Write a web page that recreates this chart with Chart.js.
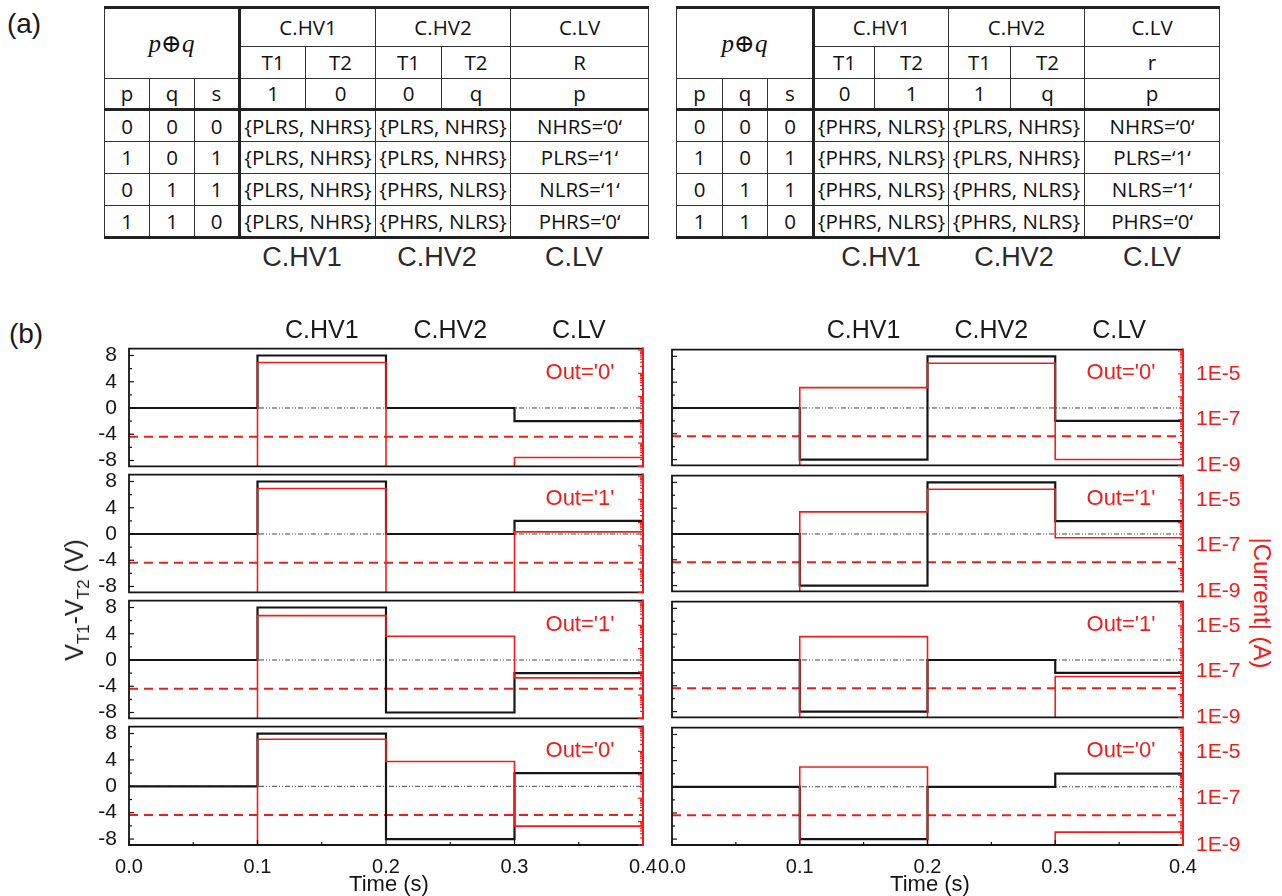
<!DOCTYPE html>
<html>
<head>
<meta charset="utf-8">
<script src="https://cdn.jsdelivr.net/npm/chart.js@4.4.1/dist/chart.umd.min.js"></script>
<style>
  body { margin: 0; background: #fff; width: 1282px; height: 896px; position: relative; overflow: hidden; font-family: "Liberation Sans", Arial, sans-serif; color: #1a1a1a; }
  .abs { position: absolute; white-space: nowrap; }
  .ctr { transform: translate(-50%, -50%); }
  canvas { position: absolute; }
  table.tt { position: absolute; border-collapse: collapse; table-layout: fixed; font-family: "Open Sans", sans-serif; font-size: 20.5px; color: #111; border-top: 3px solid #222; border-bottom: 3px solid #222; }
  table.tt td { border: 1.5px solid #333; text-align: center; vertical-align: middle; padding: 0; white-space: nowrap; overflow: visible; line-height: 1; }
  table.tt td.thickL { border-left: 3px solid #222; }
  table.tt tr.thickB td { border-bottom: 3px solid #222; }
  .pq { font-family: "Liberation Serif", "DejaVu Serif", serif; font-size: 25px; }
  .cap { font-size: 27px; color: #2a2a2a; }
  .hdr { font-size: 25px; color: #1a1a1a; }
  .out { font-size: 22px; color: #f01c1c; }
  .xt { font-size: 22px; color: #151515; }
</style>
</head>
<body>
<div class="abs ctr" style="left:24px;top:24px;font-size:28px">(a)</div>
<div class="abs ctr" style="left:26px;top:334px;font-size:28px">(b)</div>

<script>
// ---- table (a) contents ----
const truthRows = [[0, 0, 0], [1, 0, 1], [0, 1, 1], [1, 1, 0]];
const leftInputs = ['1', '0', '0', 'q', 'p'];
const rightInputs = ['0', '1', '1', 'q', 'p'];
const leftHV1 = ['{PLRS, NHRS}', '{PLRS, NHRS}', '{PLRS, NHRS}', '{PLRS, NHRS}'];
const leftHV2 = ['{PLRS, NHRS}', '{PLRS, NHRS}', '{PHRS, NLRS}', '{PHRS, NLRS}'];
const rightHV1 = ['{PHRS, NLRS}', '{PHRS, NLRS}', '{PHRS, NLRS}', '{PHRS, NLRS}'];
const rightHV2 = ['{PLRS, NHRS}', '{PLRS, NHRS}', '{PHRS, NLRS}', '{PHRS, NLRS}'];
const lvStates = ['NHRS=‘0‘', 'PLRS=‘1‘', 'NLRS=‘1‘', 'PHRS=‘0‘'];
const stageNames = ['C.HV1', 'C.HV2', 'C.LV'];

// ---- chart (b) data ----
const times = [0, 0.1, 0.2, 0.3, 0.4];
const timeTicks = [0, 0.1, 0.2, 0.3, 0.4];
const voltTicks = [-8, -4, 0, 4, 8];
const currentTicks = [1e-9, 1e-7, 1e-5];
const outLabels = ["Out='0'", "Out='1'", "Out='1'", "Out='0'"];
const thresholdCurrent = 1.9e-8;
const offScale = 1e-10; // below the 1E-9 floor of the current axis

// left column, voltage V_T1-V_T2 (V) per step (last value held to 0.4 s)
const voltL1 = [0, 8, 0, -2, -2];
const voltL2 = [0, 8, 0, 2, 2];
const voltL3 = [0, 8, -8, -2, -2];
const voltL4 = [0, 8, -8, 2, 2];
// left column, |current| (A)
const currL1 = [offScale, 2.9e-5, offScale, 2.4e-9, 2.4e-9];
const currL2 = [offScale, 2.9e-5, offScale, 4.0e-7, 4.0e-7];
const currL3 = [offScale, 2.6e-5, 3.4e-6, 5.5e-8, 5.5e-8];
const currL4 = [offScale, 3.3e-5, 3.7e-6, 6.4e-9, 6.4e-9];
// right column
const voltR1 = [0, -8, 8, -2, -2];
const voltR2 = [0, -8, 8, 2, 2];
const voltR3 = [0, -8, 0, -2, -2];
const voltR4 = [0, -8, 0, 2, 2];
const currR1 = [offScale, 2.5e-6, 2.9e-5, 1.8e-9, 1.8e-9];
const currR2 = [offScale, 3.0e-6, 2.9e-5, 2.2e-7, 2.2e-7];
const currR3 = [offScale, 3.4e-6, offScale, 6.1e-8, 6.1e-8];
const currR4 = [offScale, 2.3e-6, offScale, 3.6e-9, 3.6e-9];

const RED = '#f01c1c';
const BLACK = '#151515';

// ---- build tables ----
function buildTable(left, top, widths, inputs, hv1, hv2, lvName) {
  const t = document.createElement('table');
  t.className = 'tt';
  t.style.left = left + 'px';
  t.style.top = top + 'px';
  t.style.width = widths.reduce((a, b) => a + b, 0) + 'px';
  let h = '<colgroup>' + widths.map(w => `<col style="width:${w}px">`).join('') + '</colgroup>';
  h += `<tr style="height:39px"><td colspan="3" rowspan="2" class="pq"><i>p</i>⊕<i>q</i></td>` +
       `<td colspan="2" class="thickL">${stageNames[0]}</td><td colspan="2">${stageNames[1]}</td><td>${stageNames[2]}</td></tr>`;
  h += `<tr style="height:32px"><td class="thickL">T1</td><td>T2</td><td>T1</td><td>T2</td><td>${lvName}</td></tr>`;
  h += `<tr class="thickB" style="height:31px"><td>p</td><td>q</td><td>s</td>` +
       inputs.map((v, i) => `<td${i === 0 ? ' class="thickL"' : ''}>${v}</td>`).join('') + '</tr>';
  truthRows.forEach((r, i) => {
    h += `<tr style="height:32px"><td>${r[0]}</td><td>${r[1]}</td><td>${r[2]}</td>` +
         `<td colspan="2" class="thickL">${hv1[i]}</td><td colspan="2">${hv2[i]}</td><td>${lvStates[i]}</td></tr>`;
  });
  t.innerHTML = h;
  document.body.appendChild(t);
}
buildTable(104, 6, [45, 45, 45, 66, 70, 66, 69, 138], leftInputs, leftHV1, leftHV2, 'R');
buildTable(676, 6, [46, 45, 46, 61, 74, 62, 74, 135], rightInputs, rightHV1, rightHV2, 'r');

function addText(cls, txt, x, y, extra) {
  const d = document.createElement('div');
  d.className = 'abs ctr ' + cls;
  d.innerHTML = txt;
  d.style.left = x + 'px';
  d.style.top = y + 'px';
  if (extra) d.style.transform = 'translate(-50%, -50%) ' + extra;
  document.body.appendChild(d);
  return d;
}
[302, 437, 574].forEach((x, i) => addText('cap', stageNames[i], x, 257));
[881, 1014, 1152].forEach((x, i) => addText('cap', stageNames[i], x, 257));

// ---- charts ----
const frame = {
  id: 'frame',
  afterDatasetsDraw(chart, args, opts) {
    const { ctx, chartArea: a, scales } = chart;
    const line = (x1, y1, x2, y2) => { ctx.beginPath(); ctx.moveTo(x1, y1); ctx.lineTo(x2, y2); ctx.stroke(); };
    ctx.save();
    ctx.strokeStyle = BLACK;
    ctx.lineWidth = 1.2;
    // left voltage ticks (major + minor)
    const y = scales.y;
    voltTicks.forEach((v, i) => {
      line(a.left, y.getPixelForValue(v), a.left + 5, y.getPixelForValue(v));
      if (i < voltTicks.length - 1) {
        const m = (v + voltTicks[i + 1]) / 2;
        line(a.left, y.getPixelForValue(m), a.left + 3, y.getPixelForValue(m));
      }
    });
    if (opts.xTicks) {
      const x = scales.x;
      timeTicks.forEach((v, i) => {
        line(x.getPixelForValue(v), a.bottom, x.getPixelForValue(v), a.bottom - 5);
        if (i < timeTicks.length - 1) {
          const m = (v + timeTicks[i + 1]) / 2;
          line(x.getPixelForValue(m), a.bottom, x.getPixelForValue(m), a.bottom - 3);
        }
      });
    }
    ctx.lineWidth = 1.8;
    ctx.beginPath();
    ctx.moveTo(a.right, a.top); ctx.lineTo(a.left, a.top); ctx.lineTo(a.left, a.bottom); ctx.lineTo(a.right, a.bottom);
    ctx.stroke();
    // right current axis, red, with log ticks
    const y2 = scales.y2;
    ctx.strokeStyle = RED;
    ctx.lineWidth = 1.2;
    for (let d = -9; d <= -4; d++) {
      for (let k = 1; k <= 9; k++) {
        const v = k * Math.pow(10, d);
        if (v > y2.max) break;
        const py = y2.getPixelForValue(v);
        line(a.right, py, a.right - (k === 1 ? 5 : 3), py);
      }
    }
    ctx.lineWidth = 2;
    line(a.right, a.top - 1, a.right, a.bottom + 1);
    ctx.restore();
  }
};

Chart.defaults.font.family = '"Liberation Sans", Arial, sans-serif';
Chart.defaults.color = BLACK;

function makePanel(col, row, volt, curr) {
  const isBottom = row === 3;
  const isLeft = col === 0;
  const panelTop = 348 + row * 126;
  const canvas = document.createElement('canvas');
  const cLeft = isLeft ? 90 : 650;
  const cWidth = isLeft ? 573 : 595;
  const cHeight = 16 + 119 + (isBottom ? 32 : 16);
  canvas.width = cWidth;
  canvas.height = cHeight;
  canvas.style.left = cLeft + 'px';
  canvas.style.top = (panelTop - 16) + 'px';
  document.body.appendChild(canvas);

  const pts = arr => times.map((t, i) => ({ x: t, y: arr[i] }));
  new Chart(canvas, {
    type: 'line',
    data: {
      datasets: [
        { data: pts(curr), yAxisID: 'y2', borderColor: RED, borderWidth: 1.6, stepped: true, pointRadius: 0 },
        { data: pts(volt), yAxisID: 'y', borderColor: BLACK, borderWidth: 2.2, stepped: true, pointRadius: 0 },
        { data: [{ x: times[0], y: thresholdCurrent }, { x: times[times.length - 1], y: thresholdCurrent }],
          yAxisID: 'y2', borderColor: RED, borderWidth: 2, borderDash: [9, 6], pointRadius: 0 },
        { data: [{ x: times[0], y: 0 }, { x: times[times.length - 1], y: 0 }],
          yAxisID: 'y', borderColor: '#444', borderWidth: 1, borderDash: [5, 2, 1, 2, 1, 2], pointRadius: 0 }
      ]
    },
    options: {
      responsive: false,
      animation: false,
      devicePixelRatio: 1,
      events: [],
      layout: { padding: { top: 16, bottom: isBottom ? 0 : 16, left: 0, right: 0 } },
      plugins: { legend: { display: false }, tooltip: { enabled: false }, frame: { xTicks: isBottom } },
      scales: {
        x: {
          type: 'linear', min: 0, max: 0.4, display: isBottom,
          afterBuildTicks: s => { s.ticks = timeTicks.map(v => ({ value: v })); },
          ticks: { font: { size: 20 }, padding: 2, maxRotation: 0, autoSkip: false, callback: v => v.toFixed(1) },
          grid: { display: false }, border: { display: false },
          afterFit: s => { s.height = isBottom ? 32 : 0; }
        },
        y: {
          type: 'linear', position: 'left', min: -8.9, max: 9.05,
          afterBuildTicks: s => { s.ticks = voltTicks.map(v => ({ value: v })); },
          ticks: { display: isLeft, font: { size: 21 }, padding: 4 },
          grid: { display: false }, border: { display: false },
          afterFit: s => { s.width = isLeft ? 39 : 22; }
        },
        y2: {
          type: 'logarithmic', position: 'right', min: 1e-9, max: 1.15e-4,
          afterBuildTicks: s => { s.ticks = currentTicks.map(v => ({ value: v })); },
          ticks: { display: !isLeft, color: RED, font: { size: 21 }, padding: 5,
                   callback: v => '1E' + Math.round(Math.log10(v)) },
          grid: { display: false }, border: { display: false },
          afterFit: s => { s.width = isLeft ? 20 : 62; }
        }
      }
    },
    plugins: [frame]
  });

  addText('out', outLabels[row], isLeft ? 580 : 1121, panelTop + 24);
  if (row === 0) {
    const plotLeft = isLeft ? 129 : 672;
    const plotWidth = isLeft ? 514 : 511;
    [0.15, 0.25, 0.35].forEach((t, i) => addText('hdr', stageNames[i], plotLeft + plotWidth * t / 0.4, 329));
  }
  if (isBottom) addText('xt', 'Time (s)', isLeft ? 389 : 930, 884);
}

makePanel(0, 0, voltL1, currL1);
makePanel(0, 1, voltL2, currL2);
makePanel(0, 2, voltL3, currL3);
makePanel(0, 3, voltL4, currL4);
makePanel(1, 0, voltR1, currR1);
makePanel(1, 1, voltR2, currR2);
makePanel(1, 2, voltR3, currR3);
makePanel(1, 3, voltR4, currR4);

const yTitle = addText('', 'V<sub style="font-size:17px">T1</sub>-V<sub style="font-size:17px">T2</sub> (V)', 77, 600, 'rotate(-90deg)');
yTitle.style.fontSize = '25px';
const y2Title = addText('', '|Current| (A)', 1262, 603, 'rotate(90deg)');
y2Title.style.fontSize = '24px';
y2Title.style.color = RED;
</script>
</body>
</html>
